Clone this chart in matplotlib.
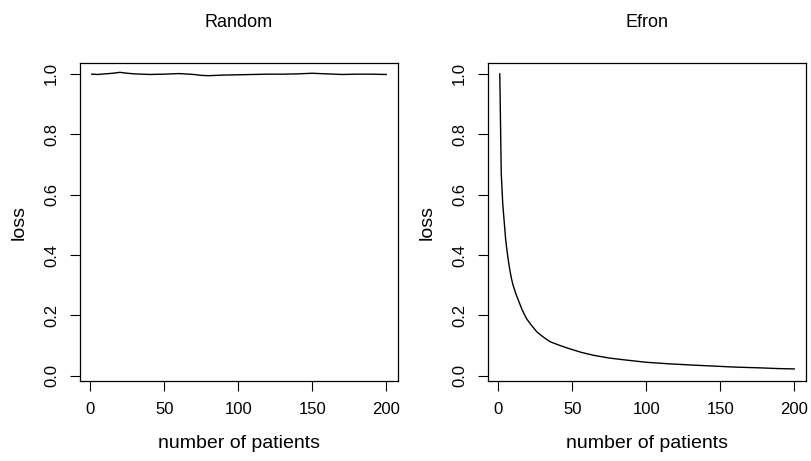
import matplotlib
matplotlib.use("Agg")
import matplotlib.pyplot as plt

plt.rcParams['font.family'] = ['Liberation Sans', 'DejaVu Sans']

# Random allocation loss
random_n = [1, 5, 10, 15, 20, 25, 30, 40, 50, 60, 70, 75, 80, 90, 100, 110, 120,
            130, 140, 150, 160, 170, 180, 190, 200]
random_loss = [0.999, 0.998, 1.000, 1.002, 1.005, 1.002, 1.000, 0.998, 0.999,
               1.001, 0.998, 0.995, 0.994, 0.996, 0.997, 0.998, 0.999, 0.999,
               1.000, 1.002, 1.000, 0.998, 0.999, 0.999, 0.998]

# Efron biased coin loss
efron_n = [1, 2, 3, 4, 5, 6, 7, 8, 9, 10, 12, 14, 16, 19, 22, 26, 30, 35, 42,
           48, 56, 64, 75, 87, 100, 115, 130, 143, 160, 177, 190, 200]
efron_loss = [1.0, 0.67, 0.57, 0.51, 0.45, 0.41, 0.375, 0.345, 0.32, 0.30,
              0.27, 0.245, 0.22, 0.19, 0.17, 0.146, 0.13, 0.113, 0.100, 0.090,
              0.078, 0.0685, 0.059, 0.052, 0.045, 0.040, 0.036, 0.033, 0.029,
              0.0265, 0.024, 0.023]

x_ticks = [0, 50, 100, 150, 200]
y_ticks = [0.0, 0.2, 0.4, 0.6, 0.8, 1.0]

W, H = 812, 461
fig = plt.figure(figsize=(W / 100, H / 100), dpi=100)

panels = [("Random", random_n, random_loss, 80),
          ("Efron", efron_n, efron_loss, 488)]

for title, xs, ys, left in panels:
    ax = fig.add_axes([left / W, (H - 381) / H, 318 / W, 318 / H])
    ax.plot(xs, ys, color='black', lw=1)
    ax.set_xlim(-6.96, 207.96)
    ax.set_ylim(-0.017, 1.036)
    ax.set_xticks(x_ticks)
    ax.set_yticks(y_ticks)
    ax.set_xticklabels([str(t) for t in x_ticks])
    ax.set_yticklabels(['%.1f' % t for t in y_ticks], rotation=90, va='center')
    ax.tick_params(direction='out', length=7, width=0.8, labelsize=12, pad=8)
    for s in ax.spines.values():
        s.set_linewidth(0.9)
    ax.set_xlabel('number of patients', fontsize=14, labelpad=13)
    ax.set_ylabel('loss', fontsize=14, labelpad=12)
    ax.set_title(title, fontsize=13, pad=26)

fig.savefig('out.png', dpi=100)
